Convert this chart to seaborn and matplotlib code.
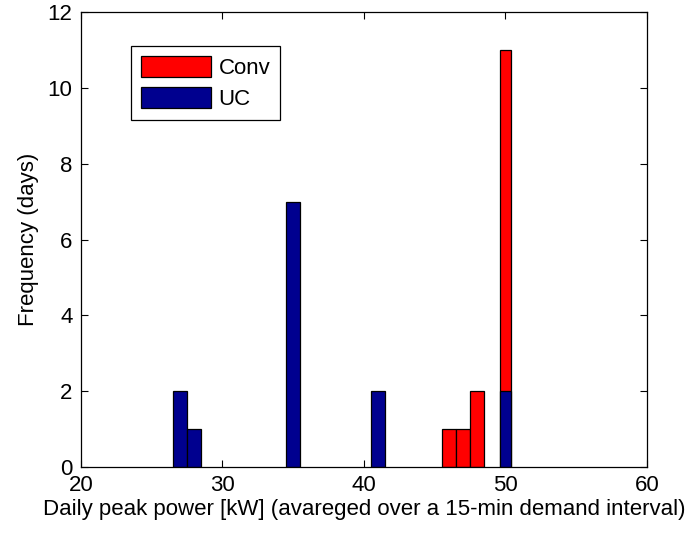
import matplotlib
matplotlib.use("Agg")
import matplotlib.pyplot as plt
from matplotlib.patches import Patch
import seaborn as sns
import pandas as pd

# Data
uc_bins = [27, 28, 35, 41]
uc_counts = [2, 1, 7, 2]
conv_bins = [46, 47, 48]
conv_counts = [1, 1, 2]
shared_bin = [50]
shared_uc = [2]
shared_conv = [9]

RED = "#FF0000"
BLUE = "#00008F"
FS = 16

sns.set_style("ticks")
plt.rcParams["font.family"] = ["Liberation Sans", "DejaVu Sans"]
plt.rcParams["text.color"] = "black"
plt.rcParams["axes.labelcolor"] = "black"

fig = plt.figure(figsize=(6.85, 5.35), dpi=100)
ax = fig.add_axes([0.118, 0.127, 0.8265, 0.8506])

kw = dict(native_scale=True, errorbar=None, edgecolor="black", linewidth=0.9, ax=ax)

# Conv stacked totals (Conv on top of UC)
df_conv = pd.DataFrame({"x": conv_bins, "y": conv_counts})
sns.barplot(data=df_conv, x="x", y="y", color=RED, saturation=1, width=0.95, **kw)
df_sh_tot = pd.DataFrame({"x": shared_bin,
                          "y": [u + c for u, c in zip(shared_uc, shared_conv)]})
sns.barplot(data=df_sh_tot, x="x", y="y", color=RED, saturation=1, width=0.78, **kw)

# UC bars
df_uc = pd.DataFrame({"x": uc_bins, "y": uc_counts})
sns.barplot(data=df_uc, x="x", y="y", color=BLUE, saturation=1, width=0.95, **kw)
df_sh_uc = pd.DataFrame({"x": shared_bin, "y": shared_uc})
sns.barplot(data=df_sh_uc, x="x", y="y", color=BLUE, saturation=1, width=0.78, **kw)

ax.set_xlim(20, 60)
ax.set_ylim(0, 12)
ax.set_xticks([20, 30, 40, 50, 60])
ax.set_yticks([0, 2, 4, 6, 8, 10, 12])
ax.tick_params(direction="in", top=True, right=True, length=5, width=0.8,
               labelsize=FS, colors="black")
ax.tick_params(axis="x", pad=6)
ax.tick_params(axis="y", pad=6)
for s in ax.spines.values():
    s.set_visible(True)
    s.set_color("black")
    s.set_linewidth(0.9)

ax.set_xlabel("Daily peak power [kW] (avareged over a 15-min demand interval)",
              fontsize=FS, labelpad=2, color="black")
ax.set_ylabel("Frequency (days)", fontsize=FS, labelpad=6, color="black")

handles = [Patch(facecolor=RED, edgecolor="black", linewidth=0.9, label="Conv"),
           Patch(facecolor=BLUE, edgecolor="black", linewidth=0.9, label="UC")]
leg = ax.legend(handles=handles, loc="upper left", bbox_to_anchor=(0.088, 0.925),
                borderaxespad=0, fontsize=FS, fancybox=False, framealpha=1,
                edgecolor="black", handlelength=3.15, handleheight=1.08,
                handletextpad=0.36, labelspacing=0.33, borderpad=0.45)
leg.get_frame().set_linewidth(0.9)
for t in leg.get_texts():
    t.set_color("black")

fig.savefig("out.png", dpi=100)
